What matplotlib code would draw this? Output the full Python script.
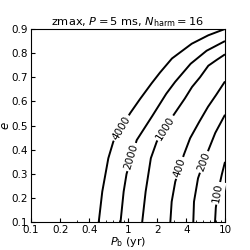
import numpy as np
import matplotlib
matplotlib.use("Agg")
import matplotlib.pyplot as plt

# contour levels and the curves: (Pb [yr], e) points
levels = [4000, 2000, 1000, 400, 200, 100]

pb_4000 = [0.499, 0.543, 0.627, 0.706, 1.05, 1.33, 1.75, 2.14, 2.84, 4.54, 6.73, 9.25, 10.0]
e_4000 = [0.100, 0.227, 0.365, 0.434, 0.551, 0.610, 0.675, 0.720, 0.778, 0.839, 0.874, 0.895, 0.900]

pb_2000 = [0.837, 0.902, 0.966, 1.23, 1.78, 2.48, 3.06, 4.42, 6.46, 10.0]
e_2000 = [0.100, 0.227, 0.300, 0.440, 0.540, 0.632, 0.681, 0.756, 0.810, 0.850]

pb_1000 = [1.40, 1.52, 1.72, 1.98, 2.95, 3.85, 4.57, 5.52, 6.73, 8.20, 10.0]
e_1000 = [0.100, 0.227, 0.365, 0.434, 0.544, 0.612, 0.660, 0.700, 0.748, 0.772, 0.795]

pb_400 = [2.73, 2.82, 3.07, 3.76, 4.37, 5.43, 6.68, 8.13, 10.0]
e_400 = [0.100, 0.185, 0.268, 0.379, 0.448, 0.516, 0.578, 0.628, 0.683]

pb_200 = [4.71, 4.79, 5.27, 6.03, 7.08, 7.94, 10.0]
e_200 = [0.100, 0.185, 0.282, 0.350, 0.420, 0.470, 0.545]

pb_100 = [7.89, 8.04, 8.51, 9.25, 10.0]
e_100 = [0.100, 0.160, 0.230, 0.296, 0.350]

curves = {4000: (pb_4000, e_4000), 2000: (pb_2000, e_2000),
          1000: (pb_1000, e_1000), 400: (pb_400, e_400),
          200: (pb_200, e_200), 100: (pb_100, e_100)}

# where each inline label sits (in e along the curve)
label_e = {4000: 0.49, 2000: 0.37, 1000: 0.49, 400: 0.325, 200: 0.35, 100: 0.22}

xticks = [0.1, 0.2, 0.4, 1, 2, 4, 10]
xticklabels = ["0.1", "0.2", "0.4", "1", "2", "4", "10"]
yticks = [0.1, 0.2, 0.3, 0.4, 0.5, 0.6, 0.7, 0.8, 0.9]

fig = plt.figure(figsize=(2.5, 2.5), dpi=100)
ax = fig.add_axes([0.124, 0.111, 0.776, 0.773])
ax.set_xscale("log")
ax.set_xlim(0.1, 10)
ax.set_ylim(0.1, 0.9)

for lev in levels:
    pb, e = curves[lev]
    ax.plot(pb, e, color="black", lw=1.4, solid_capstyle="butt")

# inline labels, rotated along the line
for lev in levels:
    pb, e = curves[lev]
    lp = np.log10(pb)
    e0 = label_e[lev]
    x0 = 10 ** np.interp(e0, e, lp)
    xa = 10 ** np.interp(e0 - 0.03, e, lp)
    xb = 10 ** np.interp(e0 + 0.03, e, lp)
    pa = ax.transData.transform((xa, e0 - 0.03))
    pbb = ax.transData.transform((xb, e0 + 0.03))
    ang = np.degrees(np.arctan2(pbb[1] - pa[1], pbb[0] - pa[0]))
    if ang > 90:
        ang -= 180
    ax.text(x0, e0, str(lev), rotation=ang, rotation_mode="anchor",
            ha="center", va="center", fontsize=7.5,
            bbox=dict(fc="white", ec="none", pad=1.2))

ax.set_xticks(xticks)
ax.set_xticklabels(xticklabels)
ax.xaxis.set_minor_formatter(matplotlib.ticker.NullFormatter())
ax.set_yticks(yticks)
ax.tick_params(which="both", direction="in", labelsize=7.5, pad=2)
ax.tick_params(which="major", length=3)
ax.tick_params(which="minor", length=1.5)

ax.set_xlabel(r"$P_\mathrm{b}$ (yr)", fontsize=8)
ax.set_ylabel(r"$e$", fontsize=8.5)
ax.xaxis.set_label_coords(0.5, -0.067)
ax.yaxis.set_label_coords(-0.1, 0.5)
ax.set_title(r"zmax, $P = 5$ ms, $N_\mathrm{harm} = 16$", fontsize=8.2, pad=3)

fig.savefig("out.png", dpi=100)
